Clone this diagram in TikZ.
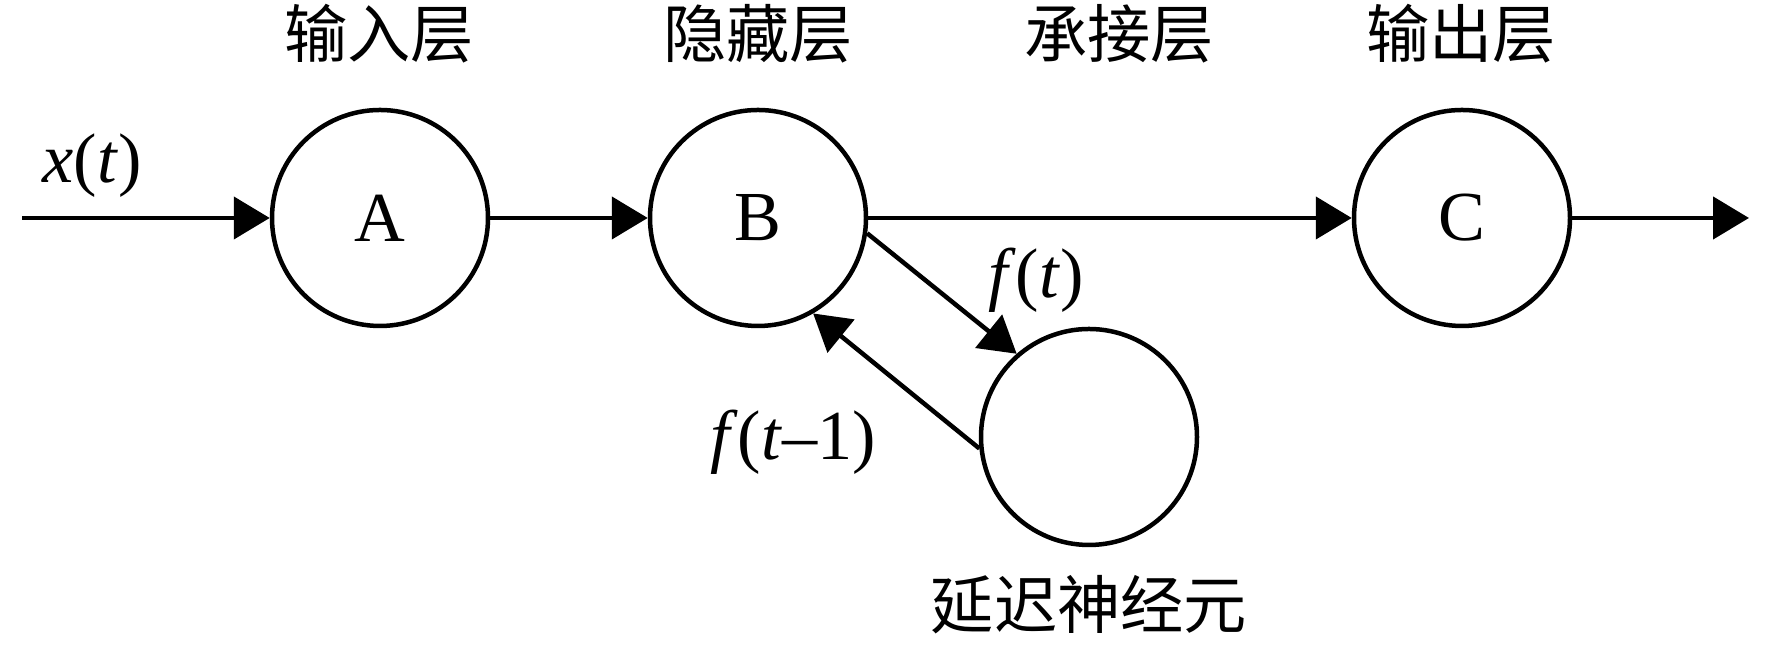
\documentclass[tikz,border=0pt]{standalone}
\usepackage{fontspec}
\setmainfont{Liberation Serif}
\newfontfamily\cjk{Noto Sans CJK SC}
\usetikzlibrary{arrows.meta}

\begin{document}
\begin{tikzpicture}[
  neuron/.style={draw, circle, line width=0.045cm, minimum size=2.16cm, inner sep=0pt,
                 font=\fontsize{20}{22}\selectfont},
  link/.style={line width=0.045cm, -{Triangle[length=0.36cm,width=0.42cm]}},
  tag/.style={font=\fontsize{20}{22}\selectfont},
  title/.style={font=\cjk\fontsize{18}{20}\selectfont}
]
\useasboundingbox (0,0) rectangle (17.72,6.48);

 \coordinate (in) at (0.22,4.30);
 \coordinate (out) at (17.49,4.30);

\node[neuron] (A) at (3.80,4.30) {A};
\node[neuron] (B) at (7.58,4.30) {B};
\node[neuron] (C) at (14.62,4.30) {C};
\node[neuron] (D) at (10.89,2.11) {};

\draw[link] (in)--(A);
\draw[link] (A)--(B);
\draw[link] (B)--(C);
\draw[link] (C)--(out);

\draw[link] (B.-8)--(D.131);
\draw[link] (D.186)--(B.-60);

\node [title] (tA) at (3.79,6.14) {输入层};
\node [title] (tB) at (7.58,6.14) {隐藏层};
\node [title] (tD) at (11.19,6.14) {承接层};
\node [title] (tC) at (14.61,6.14) {输出层};
\node [title] (tDelay) at (10.89,0.43) {延迟神经元};

\node [tag] (lx) at (0.92,4.82) {\textit{x}(\textit{t})};
\node [tag] (lf) at (10.36,3.68) {\textit{f}(\textit{t})};
\node [tag] (lf1) at (7.93,2.06) {\textit{f}(\textit{t}–1)};

\end{tikzpicture}
\end{document}
